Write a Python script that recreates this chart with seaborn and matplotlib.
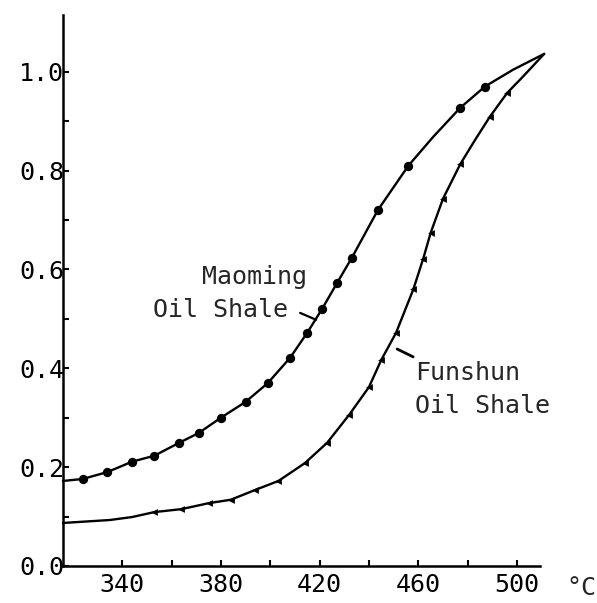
import pandas as pd
import matplotlib.pyplot as plt
import seaborn as sns
from matplotlib.ticker import FixedLocator

sns.set_style("ticks")
plt.rcParams["font.family"] = ["DejaVu Sans Mono", "DejaVu Sans"]

maoming_temp = [324, 334, 344, 353, 363, 371, 380, 390, 399, 408, 415, 421,
                427, 433, 443.6, 456, 477, 487]
maoming_val = [0.176, 0.190, 0.211, 0.223, 0.249, 0.269, 0.300, 0.332, 0.370,
               0.421, 0.472, 0.520, 0.572, 0.623, 0.720, 0.810, 0.927, 0.970]

funshun_temp = [353, 364, 375, 384, 394, 403.3, 414, 423, 432, 440, 445, 451,
                458, 462, 465, 470, 477, 489, 496]
funshun_val = [0.109, 0.115, 0.127, 0.134, 0.154, 0.172, 0.208, 0.249, 0.306,
               0.362, 0.417, 0.472, 0.560, 0.622, 0.674, 0.743, 0.813, 0.909,
               0.957]

# drawn curves (markers plus points between them)
maoming_curve_t = [316, 324, 334, 344, 353, 363, 371, 380, 390, 399, 408, 415,
                   421, 427, 433, 443.6, 456, 466, 477, 487, 498.4, 511]
maoming_curve_v = [0.172, 0.176, 0.190, 0.211, 0.223, 0.249, 0.269, 0.300,
                   0.332, 0.370, 0.421, 0.472, 0.520, 0.572, 0.623, 0.720,
                   0.810, 0.868, 0.927, 0.970, 1.004, 1.036]
funshun_curve_t = [316, 335, 344, 353, 364, 375, 384, 394, 403.3, 414, 423,
                   432, 440, 445, 451, 458, 462, 465, 470, 477, 483, 489, 496,
                   502.4, 511]
funshun_curve_v = [0.087, 0.093, 0.099, 0.109, 0.115, 0.127, 0.134, 0.154,
                   0.172, 0.208, 0.249, 0.306, 0.362, 0.417, 0.472, 0.560,
                   0.622, 0.674, 0.743, 0.813, 0.862, 0.909, 0.957, 0.990,
                   1.036]

x_major = [340, 380, 420, 460, 500]
x_minor = [360, 400, 440, 480]
y_major = [0.0, 0.2, 0.4, 0.6, 0.8, 1.0]
y_minor = [0.1, 0.3, 0.5, 0.7, 0.9]

fig = plt.figure(figsize=(5.97, 6.03), dpi=100)
ax = fig.add_axes([0.1055, 0.0614, 0.799, 0.914])

curve_m = pd.DataFrame({"t": maoming_curve_t, "v": maoming_curve_v})
curve_f = pd.DataFrame({"t": funshun_curve_t, "v": funshun_curve_v})
pts_m = pd.DataFrame({"t": maoming_temp, "v": maoming_val})
pts_f = pd.DataFrame({"t": funshun_temp, "v": funshun_val})

for d in (curve_m, curve_f):
    sns.lineplot(data=d, x="t", y="v", sort=False, estimator=None, ax=ax,
                 color="black", linewidth=1.7, clip_on=False)
sns.scatterplot(data=pts_m, x="t", y="v", ax=ax, color="black", marker="o",
                s=45, edgecolor="black", linewidth=0, clip_on=False)
sns.scatterplot(data=pts_f, x="t", y="v", ax=ax, color="black", marker="<",
                s=24, edgecolor="black", linewidth=0, clip_on=False)

ax.set_xlim(316, 509.3)
ax.set_ylim(0, 1.115)
ax.set_xticks(x_major)
ax.xaxis.set_minor_locator(FixedLocator(x_minor))
ax.set_yticks(y_major)
ax.set_yticklabels([f"{v:.1f}" for v in y_major])
ax.yaxis.set_minor_locator(FixedLocator(y_minor))
ax.tick_params(which="both", direction="in", width=1.5, length=4,
               labelsize=18, colors="black")
ax.tick_params(axis="y", pad=-1)
ax.tick_params(axis="x", pad=5)
ax.set_xlabel("")
ax.set_ylabel("")
for s in ("top", "right"):
    ax.spines[s].set_visible(False)
for s in ("left", "bottom"):
    ax.spines[s].set_linewidth(1.8)
    ax.spines[s].set_color("black")

ax.text(372.4, 0.571, "Maoming", fontsize=18, va="baseline")
ax.text(352.6, 0.504, "Oil Shale", fontsize=18, va="baseline")
ax.annotate("", xy=(418.6, 0.498), xytext=(412.1, 0.512),
            arrowprops=dict(arrowstyle="-", lw=1.6, color="black",
                            shrinkA=0, shrinkB=0))
ax.text(458.7, 0.377, "Funshun", fontsize=18, va="baseline")
ax.text(458.7, 0.310, "Oil Shale", fontsize=18, va="baseline")
ax.annotate("", xy=(457.9, 0.423), xytext=(451.4, 0.439),
            arrowprops=dict(arrowstyle="-", lw=2, color="black",
                            shrinkA=0, shrinkB=0))
fig.text(0.948, 0.005, "°C", fontsize=18, va="bottom")

fig.savefig("out.png", dpi=100)
